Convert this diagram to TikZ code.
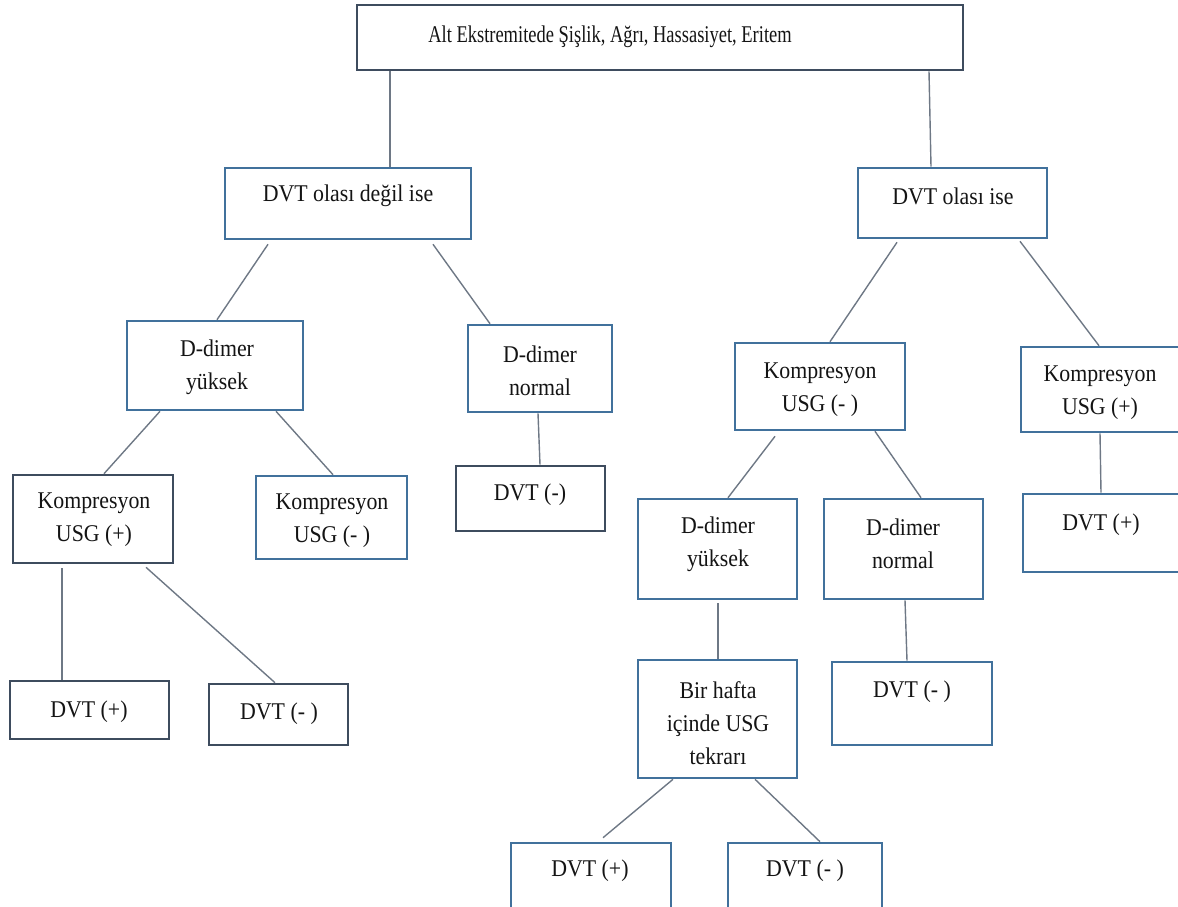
\documentclass[tikz,border=0pt]{standalone}
\usepackage{fontspec}
\setmainfont{Liberation Serif}[FakeStretch=0.91]
\newfontfamily\topfont{Liberation Serif}[FakeStretch=0.77]
\usetikzlibrary{fit,calc}
\definecolor{bblue}{HTML}{41719C}
\definecolor{bdark}{HTML}{3E4C5E}
\definecolor{conncol}{HTML}{6E7885}
\definecolor{ink}{HTML}{141414}
\tikzset{
  box/.style={draw=bblue, line width=2.6pt, inner sep=0pt, fill=white},
  dbox/.style={box, draw=bdark},
  txt/.style={font=\fontsize{24}{33}\selectfont, text=ink, align=center, inner sep=0pt},
  toptxt/.style={txt, font=\topfont\fontsize{24}{30}\selectfont},
  link/.style={draw=conncol, line width=1.4pt},
}
\begin{document}
\begin{tikzpicture}[x=1pt,y=-1pt]
\useasboundingbox (0,0) rectangle (1178,907);
% boxes
\node[dbox, fit={(357,5)(963,70)}] (top) {};
\node[box, fit={(225,168)(471,239)}] (nd) {};
\node[box, fit={(858,168)(1047,238)}] (ol) {};
\node[box, fit={(127,321)(303,410)}] (dyL) {};
\node[box, fit={(468,325)(612,412)}] (dnL) {};
\node[box, fit={(735,343)(905,430)}] (kmM) {};
\node[box, fit={(1021,347)(1190,432)}] (kpR) {};
\node[dbox, fit={(13,475)(173,563)}] (kpL) {};
\node[box, fit={(256,476)(407,559)}] (kmL) {};
\node[dbox, fit={(456,466)(605,531)}] (dvA) {};
\node[box, fit={(638,499)(797,599)}] (dyR) {};
\node[box, fit={(824,499)(983,599)}] (dnR) {};
\node[box, fit={(1023,494)(1190,572)}] (dvR) {};
\node[box, fit={(638,660)(797,778)}] (bh) {};
\node[box, fit={(832,662)(992,745)}] (dvB) {};
\node[dbox, fit={(10,681)(169,739)}] (dvC) {};
\node[dbox, fit={(209,684)(348,745)}] (dvD) {};
\node[box, fit={(511,843)(671,920)}] (dvE) {};
\node[box, fit={(728,843)(882,920)}] (dvF) {};
% texts
\node[toptxt] (topT) at (610,37) {Alt Ekstremitede Şişlik, Ağrı, Hassasiyet, Eritem};
\node[txt] (ndT) at (348,196) {DVT olası değil ise};
\node[txt] (olT) at (953,196) {DVT olası ise};
\node[txt] (dyLT) at (217,367) {D-dimer\\yüksek};
\node[txt] (dnLT) at (540,371) {D-dimer\\normal};
\node[txt] (kmMT) at (820,390) {Kompresyon\\USG (- )};
\node[txt] (kpRT) at (1100,393) {Kompresyon\\USG (+)};
\node[txt] (kpLT) at (94,520) {Kompresyon\\USG (+)};
\node[txt] (kmLT) at (332,521) {Kompresyon\\USG (- )};
\node[txt] (dvAT) at (530,495) {DVT (-)};
\node[txt] (dyRT) at (718,544) {D-dimer\\yüksek};
\node[txt] (dnRT) at (903,544) {D-dimer\\normal};
\node[txt] (dvRT) at (1101,525) {DVT (+)};
\node[txt] (bhT) at (718,723) {Bir hafta\\içinde USG\\tekrarı};
\node[txt] (dvBT) at (912,692) {DVT (- )};
\node[txt] (dvCT) at (89,712) {DVT (+)};
\node[txt] (dvDT) at (279,714) {DVT (- )};
\node[txt] (dvET) at (590,871) {DVT (+)};
\node[txt] (dvFT) at (805,871) {DVT (- )};
% connectors
\draw[link] (390,0 |- top.south) -- (390,0 |- nd.north);
\draw[link] (929,0 |- top.south) -- (931,0 |- ol.north);
\draw[link] ($(268,0 |- nd.south)+(0,4)$) -- (217,0 |- dyL.north);
\draw[link] ($(433,0 |- nd.south)+(0,4)$) -- (490,0 |- dnL.north);
\draw[link] (160,0 |- dyL.south) -- (104,0 |- kpL.north);
\draw[link] (276,0 |- dyL.south) -- (333,0 |- kmL.north);
\draw[link] (538,0 |- dnL.south) -- (540,0 |- dvA.north);
\draw[link] ($(62,0 |- kpL.south)+(0,4)$) -- (62,0 |- dvC.north);
\draw[link] ($(146,0 |- kpL.south)+(0,3)$) -- (275,0 |- dvD.north);
\draw[link] ($(897,0 |- ol.south)+(0,3)$) -- (830,0 |- kmM.north);
\draw[link] ($(1020,0 |- ol.south)+(0,2)$) -- (1099,0 |- kpR.north);
\draw[link] ($(775,0 |- kmM.south)+(0,5)$) -- (728,0 |- dyR.north);
\draw[link] (875,0 |- kmM.south) -- (921,0 |- dnR.north);
\draw[link] (1100,0 |- kpR.south) -- (1101,0 |- dvR.north);
\draw[link] ($(718,0 |- dyR.south)+(0,3)$) -- (718,0 |- bh.north);
\draw[link] (905,0 |- dnR.south) -- (907,0 |- dvB.north);
\draw[link] (673,0 |- bh.south) -- ($(603,0 |- dvE.north)+(0,-4)$);
\draw[link] (755,0 |- bh.south) -- (820,0 |- dvF.north);
\end{tikzpicture}
\end{document}
